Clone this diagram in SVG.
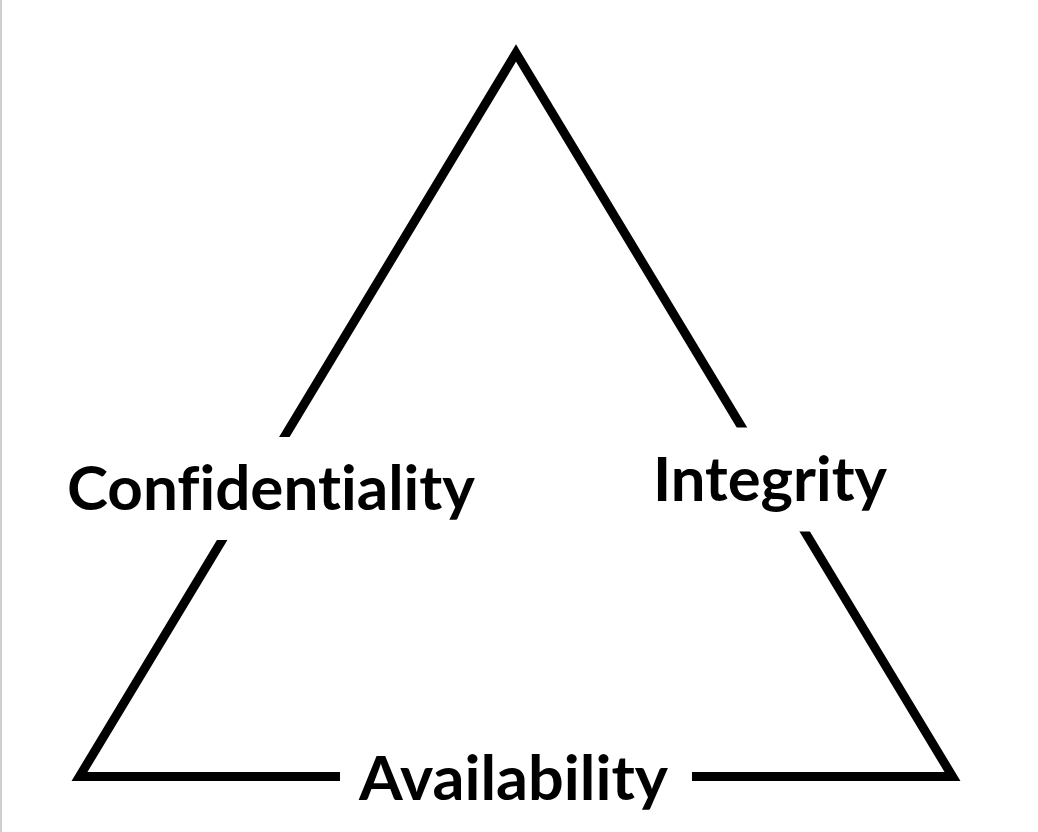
<svg xmlns="http://www.w3.org/2000/svg" width="1038" height="832" viewBox="0 0 1038 832">
  <style>
    .edge { fill: none; stroke: #000; stroke-width: 9; stroke-linejoin: miter; stroke-miterlimit: 10; }
    .bg { fill: #fff; stroke: none; }
    .label { font-family: "Lato", "Open Sans", "Liberation Sans", sans-serif; font-weight: 700; font-size: 62px; fill: #000; font-variant-ligatures: none; font-feature-settings: "liga" 0, "clig" 0; }
  </style>
  <rect x="0" y="0" width="1038" height="832" fill="#fff"/>
  <rect x="0" y="0" width="2" height="832" fill="#cfcfcf"/>
  <g id="connectors">
    <polygon class="edge" points="516,53 952.5,776.5 79.5,776.5"/>
  </g>
  <g id="node-confidentiality">
    <rect class="bg" x="60" y="437" width="420" height="103"/>
    <text class="label" x="67" y="510" textLength="408" lengthAdjust="spacingAndGlyphs">Confidentiality</text>
  </g>
  <g id="node-integrity">
    <rect class="bg" x="645" y="427.5" width="250" height="104"/>
    <text class="label" x="653" y="500.5" textLength="234" lengthAdjust="spacingAndGlyphs">Integrity</text>
  </g>
  <g id="node-availability">
    <rect class="bg" x="340" y="752" width="352" height="60"/>
    <text class="label" x="359" y="800" textLength="309" lengthAdjust="spacingAndGlyphs">Availability</text>
  </g>
</svg>
